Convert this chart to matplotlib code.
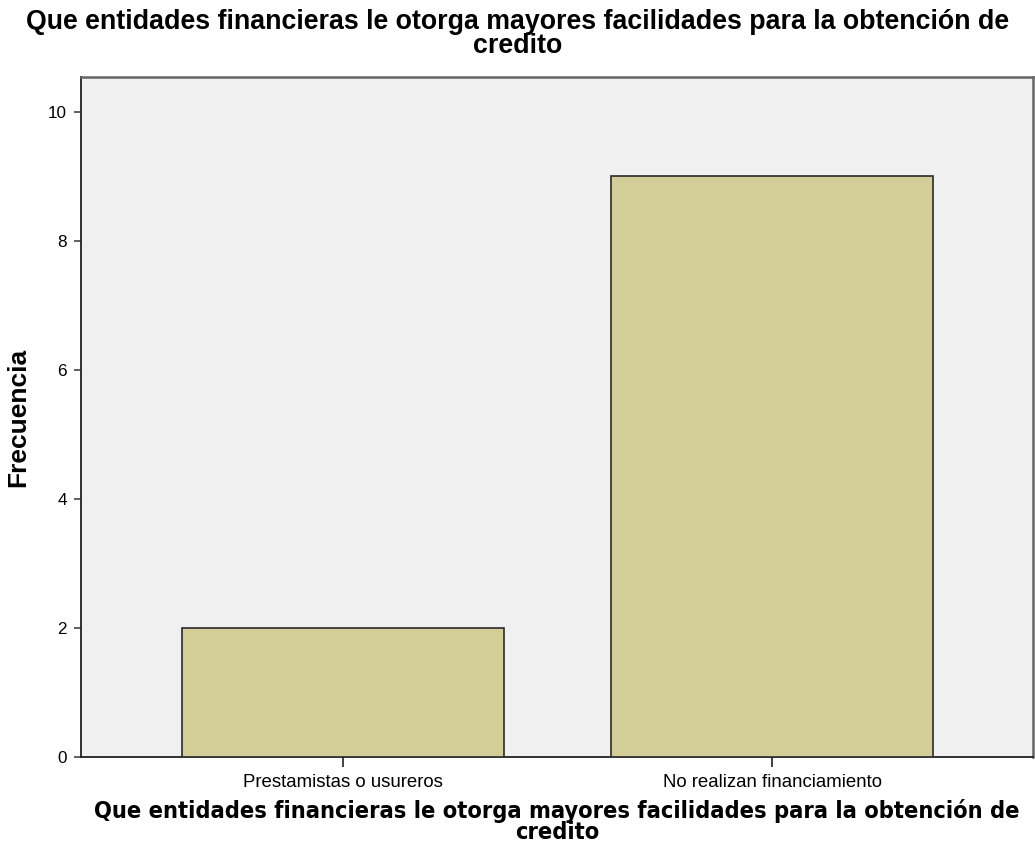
import matplotlib
matplotlib.use("Agg")
import matplotlib.pyplot as plt

categories = ["Prestamistas o usureros", "No realizan financiamiento"]
frequencies = [2, 9]
y_ticks = [0, 2, 4, 6, 8, 10]
title_text = "Que entidades financieras le otorga mayores facilidades para la obtención de\ncredito"
y_label = "Frecuencia"

plt.rcParams['font.family'] = ['Liberation Sans', 'DejaVu Sans']

fig = plt.figure(figsize=(10.35, 8.63), dpi=100)
ax = fig.add_axes([81/1035, (863-757)/863, (1033-81)/1035, (757-77)/863])
ax.set_facecolor('#F0F0F0')

x = list(range(len(categories)))
ax.bar(x, frequencies, width=0.75, color='#D3CE97', edgecolor='#2b2b2b', linewidth=1.2, zorder=3)

ax.set_xlim(-0.611, 1.608)
ax.set_ylim(0, 10.54)
ax.set_yticks(y_ticks)
ax.set_yticklabels([str(v) for v in y_ticks], fontsize=12.3)
ax.set_xticks(x)
ax.set_xticklabels(categories, fontsize=13.4)
ax.tick_params(axis='y', length=5, width=1.2, color='#444444', pad=5)
ax.tick_params(axis='x', length=7, width=1.2, color='#222222', pad=5)

for s in ['left', 'bottom']:
    ax.spines[s].set_color('#222222')
    ax.spines[s].set_linewidth(1.3)
for s in ['top', 'right']:
    ax.spines[s].set_color('#666666')
    ax.spines[s].set_linewidth(1.8)

ax.set_ylabel(y_label, fontsize=19, fontweight='bold', labelpad=13)
ax.set_xlabel(title_text, fontsize=16.9, fontweight='bold', labelpad=6,
              linespacing=0.9, family=['DejaVu Sans'], fontstretch='condensed')
fig.text(0.5, 1 - 9/863, title_text, ha='center', va='top', fontsize=19.3,
         fontweight='bold', linespacing=0.9)

fig.savefig('out.png', dpi=100)
